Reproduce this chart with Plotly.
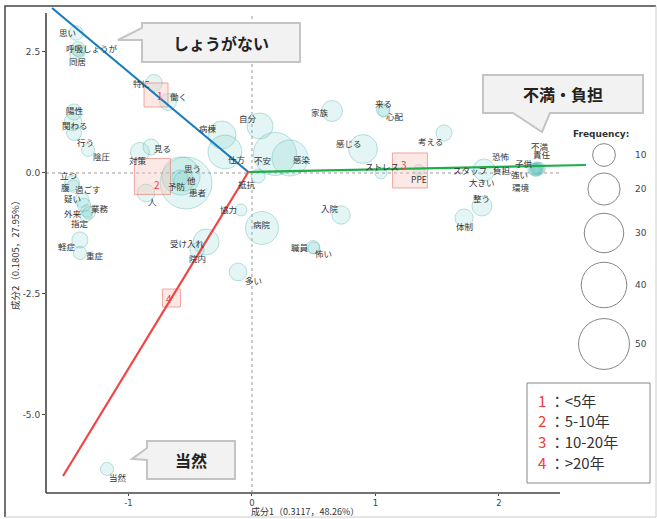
import plotly.graph_objects as go

# ---------------- data ----------------
words = ["思い", "呼吸", "しょうが", "同居", "特に", "働く", "陽性", "関わる", "行う", "陰圧",
         "対策", "見る", "病棟", "仕方", "自分", "不安", "感染", "抵抗", "思う", "他",
         "患者", "予防", "人", "協力", "病院", "受け入れ", "院内", "多い", "職員", "怖い",
         "入院", "家族", "来る", "心配", "感じる", "考える", "ストレス", "PPE", "スタッフ", "整う",
         "体制", "恐怖", "負担", "子供", "不満", "責任", "強い", "環境", "大きい", "立つ",
         "腹", "過ごす", "疑い", "外来", "業務", "指定", "軽症", "重症", "当然"]
word_x = [-1.425, -1.409, -1.401, -1.417, -0.794, -0.680, -1.441, -1.449, -1.441, -1.328,
          -0.907, -0.818, -0.243, -0.219, 0.065, 0.186, 0.308, 0.049, -0.534, -0.575,
          -0.551, -0.583, -0.858, -0.089, 0.081, -0.372, -0.445, -0.113, 0.494, 0.502,
          0.721, 0.648, 1.061, 1.069, 0.899, 1.555, 1.045, 1.352, 1.879, 1.862,
          1.717, 2.300, 2.310, 2.320, 2.330, 2.310, 2.290, 2.300, 2.280, -1.457,
          -1.449, -1.377, -1.360, -1.336, -1.320, -1.344, -1.393, -1.393, -1.174]
word_y = [2.893, 2.562, 2.521, 2.438, 1.860, 1.467, 1.260, 1.054, 0.826, 0.475,
          0.434, 0.537, 0.785, 0.434, 0.971, 0.393, 0.310, -0.062, -0.207, -0.062,
          -0.165, -0.103, -0.413, -0.764, -1.136, -1.426, -1.591, -2.045, -1.529, -1.550,
          -0.868, 1.281, 1.302, 1.281, 0.496, 0.826, 0.000, 0.062, 0.062, -0.682,
          -0.930, 0.090, 0.080, 0.070, 0.100, 0.110, 0.060, 0.050, 0.080, -0.207,
          -0.269, -0.558, -0.661, -0.785, -0.826, -0.888, -1.384, -1.653, -6.116]
word_freq = [4, 4, 3, 4, 5.5, 5.5, 5, 6, 4.3, 3.3,
             7, 5, 15, 22, 13, 36, 25, 3.8, 52, 28,
             8, 5, 6, 2.8, 21, 13, 3.8, 6, 3.3, 2.8,
             6.5, 8.5, 3.3, 2.8, 16, 5, 2.8, 2.3, 9.3, 7.7,
             6.3, 2.6, 2.6, 2.6, 2.6, 2.6, 2.6, 2.6, 2.6, 4.3,
             3, 4, 3.5, 3, 3, 2.8, 5, 3.3, 3.3]

group_labels = ["1", "2", "3", "4"]
group_x = [-0.777, -0.806, 1.279, -0.652]
group_y = [1.612, -0.072, 0.052, -2.583]
legend_text = ["&lt;5年", "5-10年", "10-20年", "&gt;20年"]

axis_origin = (-0.03, 0.02)
axis_end_x = [-1.619, 2.704, -1.530]    # blue, green, red
axis_end_y = [3.409, 0.165, -6.260]

freq_legend = [10, 20, 30, 40, 50]
x_ticks = [-1, 0, 1, 2]
y_ticks = [2.5, 0.0, -2.5, -5.0]

# ---------------- styles / layout ----------------
W, H = 657, 519
ML, MR, MT, MB = 46, 0, 6, 26
PW = W - ML - MR
PH = H - MT - MB
MAIN_FRAC = 544 / PW
XR = [-1.668, 2.737]
YR = [-6.612, 3.450]
SIZEREF = 0.0386

label_dx = [-9, -3, 22, 0, -12, 10, 1, 2, 11, 14,
            -2, 12, -14, 12, -12, -12, 12, -11, 6, 11,
            14, -3, 6, -13, 0, -19, 0, 15, -13, 10,
            -11, -12, 0, 11, -14, -14, 1, 0, -14, 0,
            0, -35, -35, -15, 0, 5, -15, -15, -52, -4,
            -8, 6, -12, -14, 11, -6, -13, 15, 11]
label_dy = [1, 1, 3, -6, 0, 6, 2, -3, -9, -6,
            -8, -1, 7, -7, 8, -6, -1, -8, 15, -4,
            -11, -8, -8, 1, 4, -1, -8, -8, 0, -5,
            7, -1, 7, -5, 6, -8, 7, -9, 0, 8,
            -8, 13, -1, 7, 22, 14, -4, -16, -13, 8,
            -1, 11, 7, -2, 5, -7, -6, -2, -8]
group_box = [24, 36, 35, 18]
group_num_dx = [4, 5, -6, -2]
group_num_dy = [-1, -8, 6, 0]
freq_legend_py = [155, 189, 233, 285, 344]

JP = "Noto Sans CJK JP"
LAT = "DejaVu Sans"


def fx(px):
    return (px - ML) / PW


def fy(py):
    return (H - MB - py) / PH


def ppath(pts):
    return "M " + " L ".join(f"{fx(a):.5f},{fy(b):.5f}" for a, b in pts) + " Z"


def ann(**kw):
    d = dict(showarrow=False, xanchor="center", yanchor="middle")
    d.update(kw)
    return d


fig = go.Figure()

# bubbles
fig.add_trace(go.Scatter(
    x=word_x, y=word_y, mode="markers", hoverinfo="skip", cliponaxis=False,
    marker=dict(size=word_freq, sizemode="area", sizeref=SIZEREF,
                color="rgba(125,210,205,0.30)",
                line=dict(color="rgba(80,175,170,0.55)", width=1)),
))

# group boxes
fig.add_trace(go.Scatter(
    x=group_x, y=group_y, mode="markers", hoverinfo="skip", cliponaxis=False,
    marker=dict(symbol="square", size=group_box,
                color="rgba(247,196,186,0.55)",
                line=dict(color="rgba(236,110,100,0.85)", width=1)),
))

# overlay axis lines
colors = ["#1a7dbb", "#1fae4b", "#f04545"]
for ex, ey, c in zip(axis_end_x, axis_end_y, colors):
    fig.add_trace(go.Scatter(x=[axis_origin[0], ex], y=[axis_origin[1], ey],
                             mode="lines", hoverinfo="skip",
                             line=dict(color=c, width=2.2)))

# frequency legend
fig.add_trace(go.Scatter(
    x=[604] * len(freq_legend), y=freq_legend_py, cliponaxis=False,
    xaxis="x2", yaxis="y2", mode="markers", hoverinfo="skip",
    marker=dict(size=freq_legend, sizemode="area", sizeref=SIZEREF,
                color="rgba(255,255,255,0)", line=dict(color="#555", width=1)),
))

annotations = []
for w, x, y, dx, dy in zip(words, word_x, word_y, label_dx, label_dy):
    annotations.append(ann(x=x, y=y, xref="x", yref="y", text=w, xshift=dx, yshift=dy,
                           font=dict(family=JP, size=8.5, color="#333")))
for g, x, y, dx, dy in zip(group_labels, group_x, group_y, group_num_dx, group_num_dy):
    annotations.append(ann(x=x, y=y, xref="x", yref="y", text=g, xshift=dx, yshift=dy,
                           font=dict(family=JP, size=10, color="#e8403f")))
for f, yy in zip(freq_legend, freq_legend_py):
    annotations.append(ann(x=641, y=yy, xref="x2", yref="y2", text=str(f),
                           font=dict(family=LAT, size=9, color="#444")))
annotations.append(ann(x=fx(601), y=fy(134), xref="paper", yref="paper", text="<b>Frequency:</b>",
                       font=dict(family=LAT, size=9, color="#333")))

# numbered legend
for i, (g, t) in enumerate(zip(group_labels, legend_text)):
    annotations.append(ann(x=fx(536), y=fy(400 + 20.7 * i), xref="paper", yref="paper",
                           xanchor="left",
                           text=f'<span style="color:#ee3b3b">{g}</span> ：{t}',
                           font=dict(family=JP, size=15, color="#333")))

# callout texts
for txt, cx, cy in [("しょうがない", 221, 43), ("不満・負担", 563, 94), ("当然", 191, 460)]:
    annotations.append(ann(x=fx(cx), y=fy(cy), xref="paper", yref="paper", text=f"<b>{txt}</b>",
                           font=dict(family=JP, size=16, color="#222")))

# axis titles
annotations.append(ann(x=fx(305), y=fy(511.5), xref="paper", yref="paper",
                       text="成分1（0.3117，48.26%）",
                       font=dict(family=JP, size=9, color="#333")))
annotations.append(ann(x=fx(15), y=fy(253), xref="paper", yref="paper", textangle=-90,
                       text="成分2（0.1805，27.95%）",
                       font=dict(family=JP, size=9.5, color="#333")))

shapes = []
# dashed zero lines
shapes.append(dict(type="line", xref="x", yref="y", x0=0, x1=0, y0=YR[0], y1=3.306,
                   line=dict(color="#9a9a9a", width=1, dash="3px,3px"), layer="below"))
shapes.append(dict(type="line", xref="x", yref="y", x0=XR[0], x1=2.494, y0=0, y1=0,
                   line=dict(color="#9a9a9a", width=1, dash="3px,3px"), layer="below"))
# axis lines
shapes.append(dict(type="line", xref="x", yref="paper", x0=XR[0], x1=2.494, y0=0, y1=0,
                   line=dict(color="#444", width=1.6)))
shapes.append(dict(type="line", xref="paper", yref="y", x0=0, x1=0, y0=YR[0], y1=3.306,
                   line=dict(color="#444", width=1.6)))
# callouts
callouts = [
    [(142, 23), (300, 23), (300, 62), (142, 62), (142, 40), (118, 40), (142, 28)],
    [(483, 75), (643, 75), (643, 113), (550, 113), (542, 132), (513, 113), (483, 113)],
    [(147, 441), (235, 441), (235, 479), (147, 479), (147, 460), (132, 459), (147, 448)],
]
for pts in callouts:
    shapes.append(dict(type="path", xref="paper", yref="paper", path=ppath(pts),
                       fillcolor="#f2f2f2", line=dict(color="#c4c4c4", width=2)))
# numbered legend box
shapes.append(dict(type="rect", xref="paper", yref="paper", x0=fx(527), x1=fx(650),
                   y0=fy(483), y1=fy(383), fillcolor="white", line=dict(color="#888", width=1)))
# outer frame
shapes.append(dict(type="path", xref="paper", yref="paper",
                   path=f"M {fx(5)},{fy(517)} L {fx(5)},{fy(6)} L {fx(656)},{fy(6)}",
                   line=dict(color="#444", width=1.5)))
shapes.append(dict(type="path", xref="paper", yref="paper",
                   path=f"M {fx(656)},{fy(6)} L {fx(656)},{fy(517)} L {fx(5)},{fy(517)}",
                   line=dict(color="#cccccc", width=1)))

fig.update_layout(
    width=W, height=H, margin=dict(l=ML, r=MR, t=MT, b=MB),
    paper_bgcolor="white", plot_bgcolor="white", showlegend=False,
    xaxis=dict(domain=[0, MAIN_FRAC], range=XR, tickvals=x_ticks, ticktext=[str(v) for v in x_ticks],
               showgrid=False, zeroline=False, showline=False, ticks="outside", ticklen=2,
               ticklabelstandoff=0,
               tickcolor="#444", tickfont=dict(family=LAT, size=8.5, color="#444")),
    yaxis=dict(range=YR, tickvals=y_ticks, ticktext=[f"{v:.1f}" for v in y_ticks],
               showgrid=False, zeroline=False, showline=False, ticks="outside", ticklen=3,
               tickcolor="#444", tickfont=dict(family=LAT, size=9, color="#444")),
    xaxis2=dict(domain=[MAIN_FRAC, 1], range=[ML + 544, W], visible=False, anchor="y2"),
    yaxis2=dict(domain=[0, 1], range=[H - MB, MT], visible=False, anchor="x2"),
    shapes=shapes, annotations=annotations,
)

fig.write_html("out.html")
